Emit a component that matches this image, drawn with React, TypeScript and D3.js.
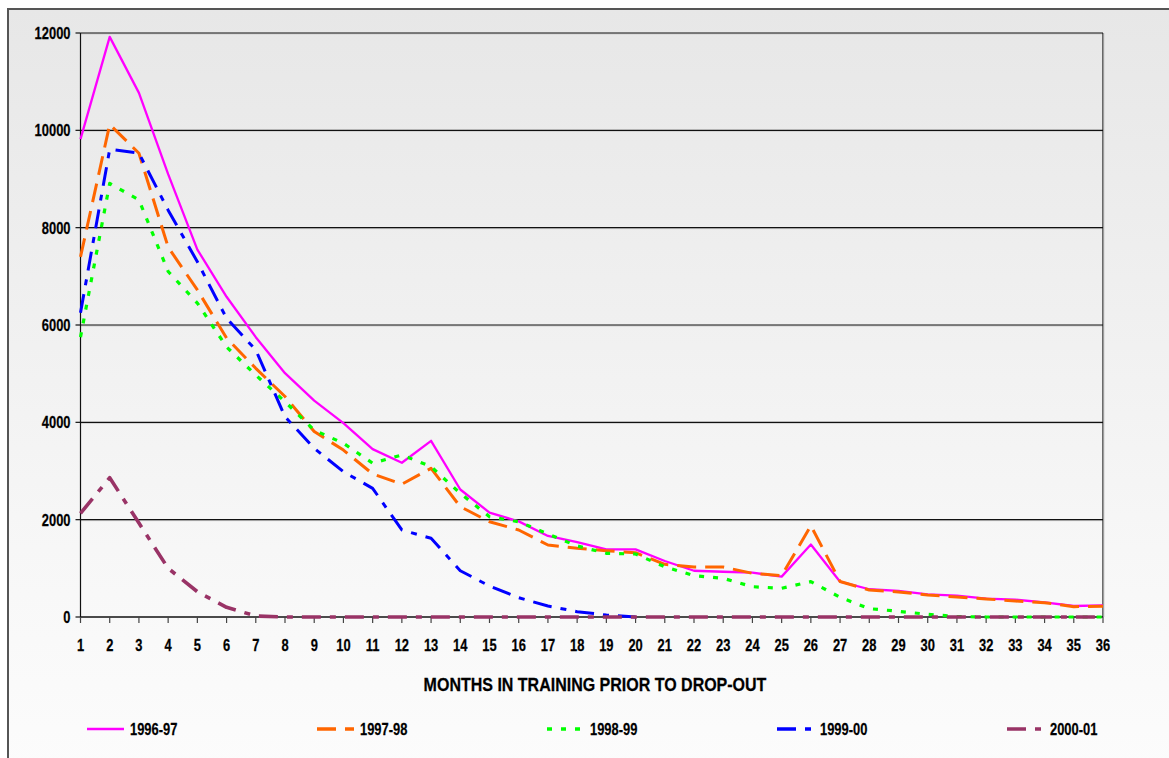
import React from 'react';
import * as d3 from 'd3';

const months = [1,2,3,4,5,6,7,8,9,10,11,12,13,14,15,16,17,18,19,20,21,22,23,24,25,26,27,28,29,30,31,32,33,34,35,36];

const s1996 = [9820,11920,10770,9100,7550,6580,5750,5010,4445,3985,3450,3170,3620,2620,2145,1965,1665,1540,1390,1390,1150,950,930,910,830,1490,725,570,535,466,438,376,356,301,226,240];
const s1997 = [7400,10120,9530,7600,6720,5730,5110,4530,3810,3430,2940,2730,3055,2266,1958,1788,1480,1411,1362,1321,1082,1027,1027,897,850,1876,730,555,514,452,411,370,329,294,212,220];
const s1998 = [5750,8910,8570,7100,6450,5550,4970,4425,3840,3570,3160,3330,3090,2540,2060,1958,1705,1460,1309,1294,1034,849,795,623,590,726,405,171,117,55,10,0,0,0,0,0];
const s1999: (number | null)[] = [6250,9610,9530,8360,7300,6137,5486,4115,3466,2986,2644,1788,1617,951,637,397,226,109,41,0,null,null,null,null,null,null,null,null,null,null,null,null,null,null,null,null];
const s2000 = [2130,2862,1930,1000,520,199,20,0,0,0,0,0,0,0,0,0,0,0,0,0,0,0,0,0,0,0,0,0,0,0,0,0,0,0,0,0];

const yTicks = [0,2000,4000,6000,8000,10000,12000];
const seriesNames = ['1996-97','1997-98','1998-99','1999-00','2000-01'];
const xTitle = 'MONTHS IN TRAINING PRIOR TO DROP-OUT';

const seriesData: (number | null)[][] = [s1996, s1997, s1998, s1999, s2000];
const seriesColors = ['#ff00ff', '#ff6600', '#00ff00', '#0000ff', '#993366'];
const seriesDash = ['none', '19 9', '5 9', '19 9 6 9', '19 9 6 9'];
const seriesWidth = [2.3, 3, 3.2, 3, 3.6];

const FONT = '"Liberation Sans", Arial, sans-serif';

function CText(props: { x: number; y: number; anchor?: string; size?: number; sx?: number; children: React.ReactNode }) {
  const { x, y, anchor = 'middle', size = 17, sx = 0.76, children } = props;
  return (
    <text
      transform={`translate(${x},${y}) scale(${sx},1)`}
      textAnchor={anchor}
      dy="0.36em"
      fontFamily={FONT}
      fontWeight="bold"
      fontSize={size}
      fill="#000"
      stroke="#000"
      strokeWidth={0.25}
    >
      {children}
    </text>
  );
}

export default function App() {
  const W = 1169, H = 758;
  const left = 80.5, right = 1103, top = 33, bottom = 617;
  const x = d3.scalePoint<number>().domain(months).range([left, right]);
  const y = d3.scaleLinear().domain([0, 12000]).range([bottom, top]);
  const line = d3.line<number | null>()
    .defined((d) => d !== null)
    .x((_, i) => x(months[i]) as number)
    .y((d) => y(d as number));

  const legendX = [87, 317, 547, 777, 1007];
  const legendY = 729;

  return (
    <svg width={W} height={H} style={{ position: 'absolute', left: 0, top: 0 }}>
      <defs>
        <linearGradient id="bg" x1="0" y1="0" x2="0" y2="1">
          <stop offset="0" stopColor="#e7e7e7" />
          <stop offset="0.6" stopColor="#f7f7f7" />
          <stop offset="1" stopColor="#ffffff" />
        </linearGradient>
      </defs>
      <rect x={0} y={0} width={W} height={H} fill="#ffffff" />
      <rect x={8} y={9} width={1300} height={900} fill="url(#bg)" stroke="#555" strokeWidth={2} />

      {yTicks.filter((t) => t > 0).map((t) => (
        <g key={t}>
          <line x1={left} x2={right} y1={y(t) + 1} y2={y(t) + 1} stroke="#cfcfcf" strokeWidth={1} />
          <line x1={left} x2={right} y1={y(t)} y2={y(t)} stroke="#111" strokeWidth={1.2} />
        </g>
      ))}
      <line x1={right} x2={right} y1={top} y2={bottom} stroke="#111" strokeWidth={1.2} />
      <line x1={right + 1} x2={right + 1} y1={top} y2={bottom} stroke="#cfcfcf" strokeWidth={1} />

      <line x1={left} x2={left} y1={top} y2={bottom} stroke="#111" strokeWidth={1.2} />
      {yTicks.map((t) => (
        <g key={'yt' + t}>
          <line x1={left - 5} x2={left} y1={y(t)} y2={y(t)} stroke="#111" strokeWidth={1.2} />
          <CText x={70.5} y={y(t)} anchor="end">{t}</CText>
        </g>
      ))}

      <line x1={left} x2={right} y1={bottom} y2={bottom} stroke="#111" strokeWidth={1.4} />
      {months.map((m) => (
        <g key={'xt' + m}>
          <line x1={x(m)} x2={x(m)} y1={bottom} y2={bottom + 6} stroke="#444" strokeWidth={1.2} />
          <CText x={x(m) as number} y={645}>{m}</CText>
        </g>
      ))}

      {seriesData.map((data, i) => (
        <path
          key={seriesNames[i]}
          d={line(data) || ''}
          fill="none"
          stroke={seriesColors[i]}
          strokeWidth={seriesWidth[i]}
          strokeDasharray={seriesDash[i]}
          strokeLinejoin="round"
        />
      ))}

      <CText x={595} y={685} size={18} sx={0.89}>{xTitle}</CText>

      {seriesNames.map((n, i) => (
        <g key={'lg' + n}>
          <line
            x1={legendX[i]}
            x2={legendX[i] + 37}
            y1={legendY}
            y2={legendY}
            stroke={seriesColors[i]}
            strokeWidth={i === 0 ? 2.5 : 3.5}
            strokeDasharray={seriesDash[i]}
          />
          <CText x={legendX[i] + 43} y={legendY} anchor="start">{n}</CText>
        </g>
      ))}
    </svg>
  );
}
